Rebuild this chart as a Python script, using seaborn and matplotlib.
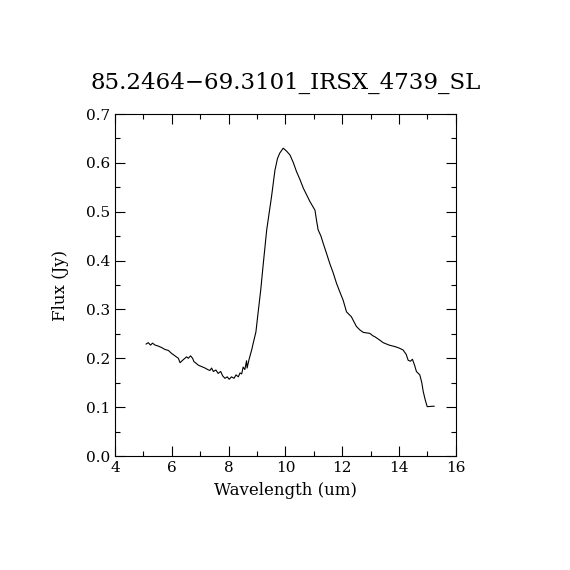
import seaborn as sns
import pandas as pd
import matplotlib.pyplot as plt
from matplotlib.ticker import MultipleLocator

# spectrum
wavelength = [5.09, 5.17, 5.25, 5.32, 5.41, 5.52, 5.64, 5.76, 5.88, 5.99,
              6.11, 6.23, 6.29, 6.38, 6.46, 6.52, 6.58, 6.66, 6.73, 6.78,
              6.85, 6.93, 7.05, 7.17, 7.26, 7.34, 7.40, 7.46, 7.55, 7.63,
              7.72, 7.79, 7.87, 7.95, 8.02, 8.10, 8.19, 8.26, 8.34, 8.40,
              8.46, 8.51, 8.57, 8.63, 8.65, 8.72, 8.81, 8.89, 8.96, 9.04,
              9.13, 9.22, 9.34, 9.51, 9.63, 9.72, 9.80, 9.92, 10.04, 10.16,
              10.28, 10.39, 10.51, 10.63, 10.75, 10.86, 10.96, 11.04, 11.10, 11.15,
              11.25, 11.33, 11.45, 11.56, 11.68, 11.80, 11.92, 12.03, 12.10, 12.15,
              12.32, 12.50, 12.62, 12.74, 12.97, 13.08, 13.15, 13.30, 13.44, 13.65,
              13.85, 14.00, 14.14, 14.25, 14.32, 14.40, 14.47, 14.55, 14.61, 14.73,
              14.80, 14.85, 14.92, 14.99, 15.24]
flux = [0.229, 0.232, 0.227, 0.231, 0.227, 0.225, 0.222, 0.218, 0.216, 0.210,
        0.205, 0.200, 0.191, 0.196, 0.200, 0.203, 0.200, 0.205, 0.200, 0.193,
        0.190, 0.186, 0.183, 0.180, 0.177, 0.175, 0.180, 0.173, 0.176, 0.169,
        0.173, 0.164, 0.159, 0.162, 0.157, 0.162, 0.159, 0.166, 0.162, 0.170,
        0.168, 0.182, 0.177, 0.195, 0.180, 0.198, 0.217, 0.237, 0.254, 0.295,
        0.340, 0.394, 0.463, 0.531, 0.585, 0.609, 0.620, 0.630, 0.624, 0.616,
        0.600, 0.582, 0.566, 0.548, 0.534, 0.521, 0.511, 0.503, 0.480, 0.463,
        0.450, 0.435, 0.414, 0.394, 0.375, 0.353, 0.335, 0.319, 0.305, 0.295,
        0.285, 0.265, 0.258, 0.253, 0.251, 0.246, 0.244, 0.238, 0.232, 0.227,
        0.224, 0.221, 0.217, 0.208, 0.196, 0.194, 0.198, 0.185, 0.173, 0.166,
        0.150, 0.132, 0.115, 0.101, 0.102]

df = pd.DataFrame({'wavelength': wavelength, 'flux': flux})

sns.set_style('ticks')
plt.rcParams['font.family'] = ['DejaVu Serif']
plt.rcParams['text.color'] = 'black'
plt.rcParams['axes.labelcolor'] = 'black'
plt.rcParams['xtick.color'] = 'black'
plt.rcParams['ytick.color'] = 'black'
plt.rcParams['xtick.direction'] = 'in'
plt.rcParams['ytick.direction'] = 'in'
plt.rcParams['xtick.top'] = True
plt.rcParams['ytick.right'] = True

fig = plt.figure(figsize=(5.7, 5.7), dpi=100)
ax = fig.add_axes([0.2018, 0.2, 0.598, 0.6])

sns.lineplot(data=df, x='wavelength', y='flux', color='black', linewidth=0.8, ax=ax)

ax.set_xlim(4, 16)
ax.set_ylim(0, 0.7)
ax.xaxis.set_major_locator(MultipleLocator(2))
ax.xaxis.set_minor_locator(MultipleLocator(1))
ax.yaxis.set_major_locator(MultipleLocator(0.1))
ax.yaxis.set_minor_locator(MultipleLocator(0.05))
ax.yaxis.set_major_formatter(plt.FormatStrFormatter('%.1f'))
ax.tick_params(which='major', length=7, width=0.8, labelsize=11)
ax.tick_params(which='minor', length=3.5, width=0.8)
for s in ax.spines.values():
    s.set_linewidth(0.8)
    s.set_color('black')

ax.set_xlabel('Wavelength (um)', fontsize=12, labelpad=5)
ax.set_ylabel('Flux (Jy)', fontsize=12, labelpad=12)
ax.set_title('85.2464\u221269.3101_IRSX_4739_SL', fontsize=16.5, pad=18)

fig.savefig('out.png', dpi=100, facecolor='white')
